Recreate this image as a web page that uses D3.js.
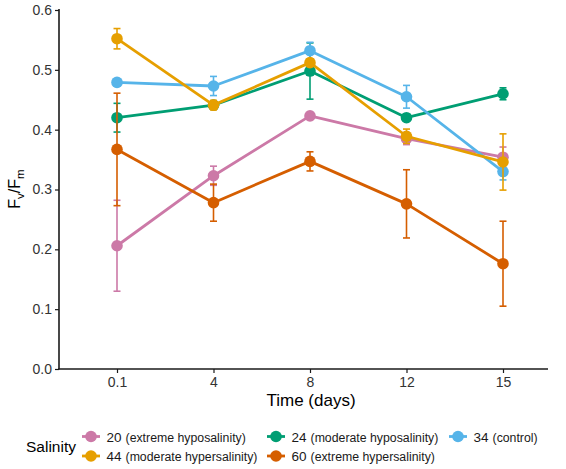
<!DOCTYPE html>
<html>
<head>
<meta charset="utf-8">
<script src="https://cdn.jsdelivr.net/npm/d3@7"></script>
<style>
  body { margin: 0; background: #fff; }
  svg { font-family: "Liberation Sans", Arial, sans-serif; }
</style>
</head>
<body>
<svg id="chart" width="566" height="469"></svg>
<script>
// Days sampled (discrete axis)
var days = ["0.1", "4", "8", "12", "15"];

// Salinity groups, legend order
var salinity = ["20", "24", "34", "44", "60"];
var salinityNote = ["(extreme hyposalinity)", "(moderate hyposalinity)", "(control)",
                    "(moderate hypersalinity)", "(extreme hypersalinity)"];
var colours = ["#CC79A7", "#009E73", "#56B4E9", "#E69F00", "#D55E00"];

// Fv/Fm means per group, one per day
var mean20 = [0.206, 0.323, 0.423, 0.385, 0.354];
var mean24 = [0.420, 0.441, 0.498, 0.420, 0.460];
var mean34 = [0.479, 0.473, 0.532, 0.455, 0.330];
var mean44 = [0.552, 0.441, 0.512, 0.389, 0.346];
var mean60 = [0.367, 0.278, 0.347, 0.276, 0.176];

// error (half length of the bar) per group, one per day
var err20 = [0.076, 0.016, 0.005, 0.010, 0.017];
var err24 = [0.024, 0.006, 0.047, 0.005, 0.010];
var err34 = [0.004, 0.016, 0.014, 0.019, 0.014];
var err44 = [0.017, 0.008, 0.006, 0.012, 0.047];
var err60 = [0.094, 0.031, 0.016, 0.057, 0.071];

var yTicks = [0, 0.1, 0.2, 0.3, 0.4, 0.5, 0.6];

var means = [mean20, mean24, mean34, mean44, mean60];
var errs = [err20, err24, err34, err44, err60];

var groups = salinity.map(function (s, i) {
    return {
        name: s, note: salinityNote[i], colour: colours[i],
        values: days.map(function (d, j) {
            return { day: d, mean: means[i][j], err: errs[i][j] };
        })
    };
});

var svg = d3.select("#chart");

var x = d3.scalePoint().domain(days).range([117, 503]);
var y = d3.scaleLinear().domain([0, 0.6]).range([369, 10]);

var axisColour = "#1a1a1a";

// Y axis
var yAxis = svg.append("g")
    .attr("transform", "translate(59,0)")
    .call(d3.axisLeft(y).tickValues(yTicks).tickFormat(d3.format(".1f")).tickSize(4).tickPadding(3));
yAxis.select(".domain").remove();
yAxis.selectAll("line").attr("stroke", axisColour).attr("stroke-width", 1.2);
yAxis.selectAll("text").attr("font-size", 14).attr("fill", "#333");
svg.append("line")
    .attr("x1", 59).attr("x2", 59).attr("y1", 9).attr("y2", 369.6)
    .attr("stroke", axisColour).attr("stroke-width", 1.6);

// X axis
var xAxis = svg.append("g")
    .attr("transform", "translate(0,369)")
    .call(d3.axisBottom(x).tickSize(4).tickPadding(4));
xAxis.select(".domain").remove();
xAxis.selectAll("line").attr("stroke", axisColour).attr("stroke-width", 1.2);
xAxis.selectAll("text").attr("font-size", 14).attr("fill", "#333");
svg.append("line")
    .attr("x1", 58.2).attr("x2", 548).attr("y1", 369).attr("y2", 369)
    .attr("stroke", axisColour).attr("stroke-width", 1.6);

// Axis titles
svg.append("text")
    .attr("x", 311).attr("y", 406)
    .attr("text-anchor", "middle")
    .attr("font-size", 17)
    .text("Time (days)");

var yTitle = svg.append("text")
    .attr("transform", "translate(20,189) rotate(-90)")
    .attr("text-anchor", "middle")
    .attr("font-size", 16);
yTitle.append("tspan").text("F");
yTitle.append("tspan").attr("font-size", 11.5).attr("dy", 4).text("v");
yTitle.append("tspan").attr("dy", -4).text("/F");
yTitle.append("tspan").attr("font-size", 11.5).attr("dy", 4).text("m");

// Series
var line = d3.line()
    .x(function (d) { return x(d.day); })
    .y(function (d) { return y(d.mean); });

var series = svg.append("g").selectAll("g")
    .data(groups)
    .enter().append("g");

series.append("path")
    .attr("d", function (g) { return line(g.values); })
    .attr("fill", "none")
    .attr("stroke", function (g) { return g.colour; })
    .attr("stroke-width", 2.8)
    .attr("stroke-linejoin", "round");

var bars = series.selectAll("g.err")
    .data(function (g) { return g.values.map(function (v) { return { v: v, colour: g.colour }; }); })
    .enter().append("g").attr("class", "err")
    .attr("stroke", function (d) { return d.colour; })
    .attr("stroke-width", 1.6);

bars.append("line")
    .attr("x1", function (d) { return x(d.v.day); })
    .attr("x2", function (d) { return x(d.v.day); })
    .attr("y1", function (d) { return y(d.v.mean - d.v.err); })
    .attr("y2", function (d) { return y(d.v.mean + d.v.err); });
[-1, 1].forEach(function (sign) {
    bars.append("line")
        .attr("x1", function (d) { return x(d.v.day) - 3.5; })
        .attr("x2", function (d) { return x(d.v.day) + 3.5; })
        .attr("y1", function (d) { return y(d.v.mean + sign * d.v.err); })
        .attr("y2", function (d) { return y(d.v.mean + sign * d.v.err); });
});

series.selectAll("circle")
    .data(function (g) { return g.values.map(function (v) { return { v: v, colour: g.colour }; }); })
    .enter().append("circle")
    .attr("cx", function (d) { return x(d.v.day); })
    .attr("cy", function (d) { return y(d.v.mean); })
    .attr("r", 5.8)
    .attr("fill", function (d) { return d.colour; });

// Legend
svg.append("text")
    .attr("x", 26).attr("y", 452)
    .attr("font-size", 15.5)
    .text("Salinity");

var legendCols = [91, 276, 458];
var legendRows = [436.5, 456];

var items = svg.append("g").selectAll("g")
    .data(groups)
    .enter().append("g")
    .attr("transform", function (g, i) {
        return "translate(" + legendCols[i % 3] + "," + legendRows[Math.floor(i / 3)] + ")";
    });

items.append("line")
    .attr("x1", -9).attr("x2", 9)
    .attr("stroke", function (g) { return g.colour; })
    .attr("stroke-width", 2.8);
items.append("circle")
    .attr("r", 5.8)
    .attr("fill", function (g) { return g.colour; });

var labels = items.append("text")
    .attr("x", 15.5).attr("y", 5)
    .attr("font-size", 13.5)
    .attr("fill", "#1a1a1a");
labels.append("tspan").text(function (g) { return g.name; });
labels.append("tspan").attr("dx", 4).attr("font-size", 12.3).text(function (g) { return g.note; });
</script>
</body>
</html>
